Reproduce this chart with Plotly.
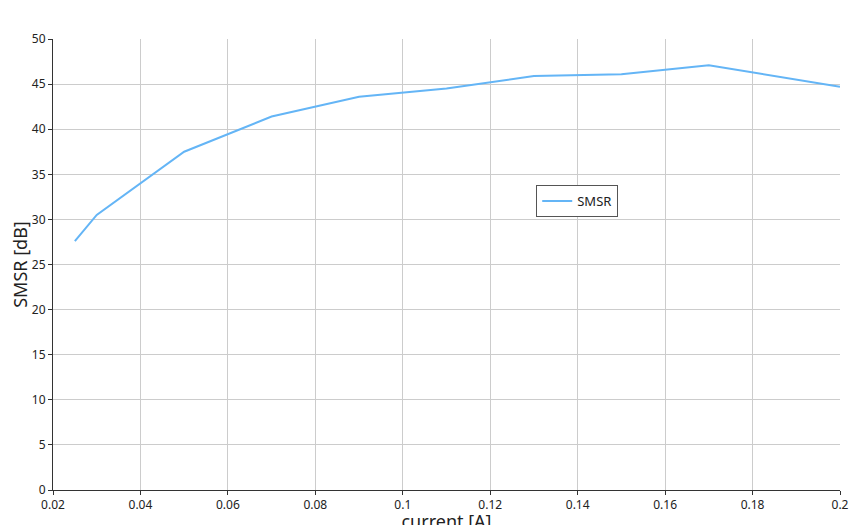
import plotly.graph_objects as go

current = [0.025, 0.03, 0.05, 0.07, 0.09, 0.11, 0.13, 0.15, 0.17, 0.2]
smsr = [27.6, 30.5, 37.5, 41.4, 43.6, 44.5, 45.9, 46.1, 47.1, 44.7]

fig = go.Figure(go.Scatter(x=current, y=smsr, mode="lines", name="SMSR",
                           line=dict(color="#64b5f6", width=2)))
ax = dict(showgrid=True, gridcolor="#cccccc", zeroline=False, showline=True,
          linecolor="#333", ticks="outside", ticklen=4, tickcolor="#333",
          tickfont=dict(size=12, color="#222"), automargin=False)
fig.update_layout(
    width=857, height=525, plot_bgcolor="white", paper_bgcolor="white",
    font=dict(family="Noto Sans", color="#222"),
    margin=dict(l=45, r=25, t=31, b=43, autoexpand=False),
    showlegend=True,
    legend=dict(x=0.614, y=0.676, xanchor="left", yanchor="top",
                bordercolor="#555", borderwidth=1, font=dict(size=13)),
    xaxis=dict(**ax, range=[0.02, 0.2], dtick=0.02,
               title=dict(text="current [A]", font=dict(size=18), standoff=0)),
    yaxis=dict(**ax, range=[0, 50], dtick=5,
               title=dict(text="SMSR [dB]", font=dict(size=18), standoff=2)),
)
fig.write_html("out.html")
